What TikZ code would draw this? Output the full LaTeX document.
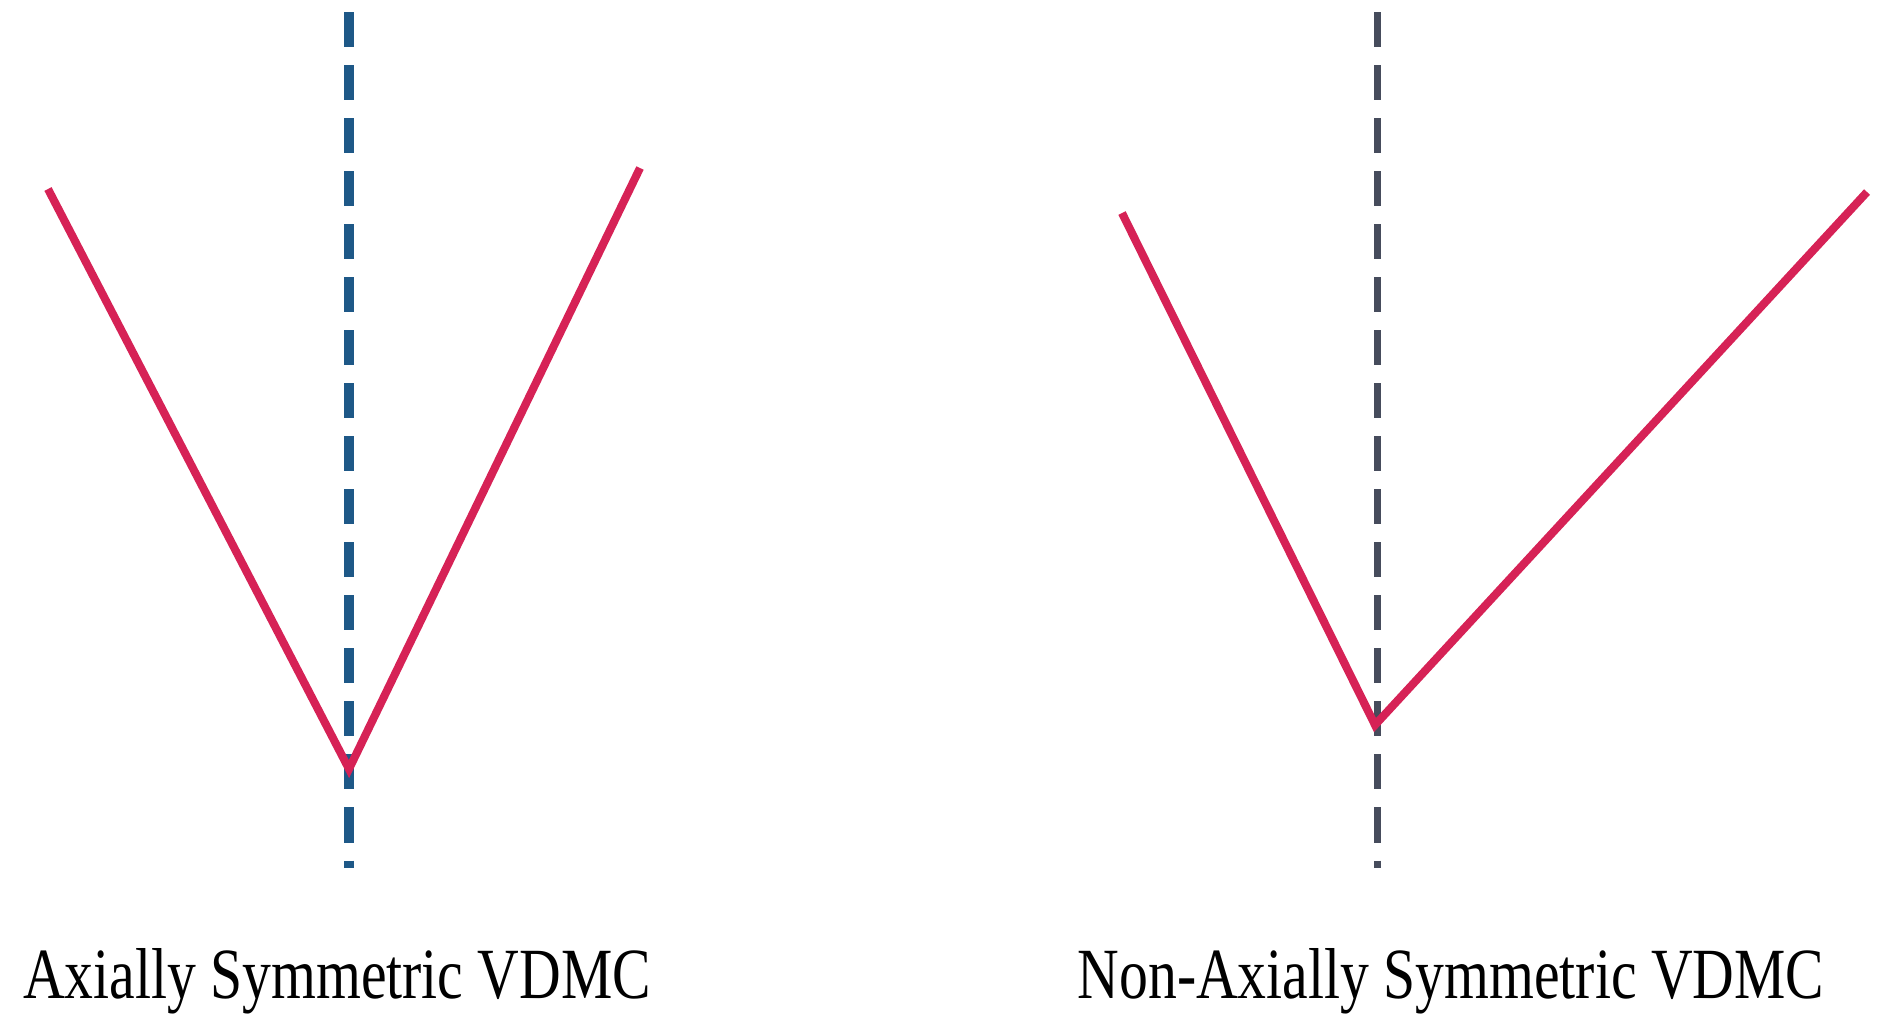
\documentclass[tikz,border=0pt]{standalone}
\usepackage{fontspec}
\setmainfont{Liberation Serif}[FakeStretch=0.8]
\usepackage{tikz}

\definecolor{vred}{RGB}{214,34,86}
\definecolor{axblue}{RGB}{30,88,135}
\definecolor{axgray}{RGB}{70,76,92}

\begin{document}
\begin{tikzpicture}[x=0.01cm,y=-0.01cm,
  vline/.style={line width=2.3pt,vred,line join=miter},
  axis/.style={line width=2.6pt,dash pattern=on 0.35cm off 0.18cm}]
\useasboundingbox (0,0) rectangle (1885,1020);

% left: axially symmetric
\coordinate (la) at (48,189);
\coordinate (lv) at (349,769);
\coordinate (lb) at (640,168);
\coordinate (lt) at (349,12);
\coordinate (lbot) at (349,868);

% right: non-axially symmetric
\coordinate (ra) at (1122,213);
\coordinate (rv) at (1375,725);
\coordinate (rb) at (1867,192);
\coordinate (rt) at (1377,12);
\coordinate (rbot) at (1377,868);

\draw[axis,axblue] (lt) -- (lbot);
\draw[axis,axgray,line width=2pt] (rt) -- (rbot);

\draw[vline] (la) -- (lv) -- (lb);
\draw[vline] (ra) -- (rv) -- (rb);

\node[font=\fontsize{20.5}{24}\selectfont,anchor=base] (ltxt) at (337,998) {Axially Symmetric VDMC};
\node[font=\fontsize{20.5}{24}\selectfont,anchor=base] (rtxt) at (1451,998) {Non-Axially Symmetric VDMC};

\end{tikzpicture}
\end{document}
